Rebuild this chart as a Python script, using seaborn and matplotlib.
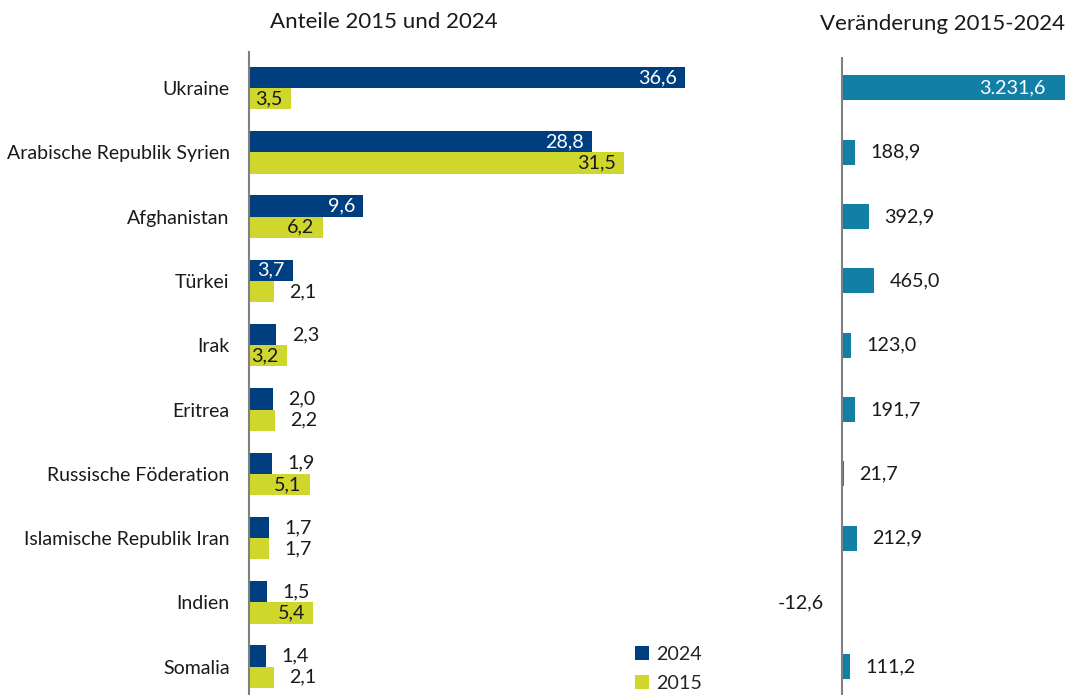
import pandas as pd
import matplotlib.pyplot as plt
import seaborn as sns

# Daten
laender = ["Ukraine", "Arabische Republik Syrien", "Afghanistan", "Türkei", "Irak",
           "Eritrea", "Russische Föderation", "Islamische Republik Iran", "Indien", "Somalia"]
anteil_2024 = [36.6, 28.8, 9.6, 3.7, 2.3, 2.0, 1.9, 1.7, 1.5, 1.4]
anteil_2015 = [3.5, 31.5, 6.2, 2.1, 3.2, 2.2, 5.1, 1.7, 5.4, 2.1]
veraenderung = [3231.6, 188.9, 392.9, 465.0, 123.0, 191.7, 21.7, 212.9, -12.6, 111.2]
jahre = ["2024", "2015"]

C_2024 = "#003f7f"
C_2015 = "#cfd72d"
C_VER = "#127fa6"
TXT = "#1a1a1a"
FS = 14.2


def fmt(v):
    s = f"{v:,.1f}"
    return s.replace(",", "X").replace(".", ",").replace("X", ".")


df = pd.DataFrame({
    "Land": laender * 2,
    "Anteil": anteil_2024 + anteil_2015,
    "Jahr": ["2024"] * len(laender) + ["2015"] * len(laender),
})
df_ver = pd.DataFrame({"Land": laender, "Veraenderung": veraenderung})

sns.set_theme(style="white")
plt.rcParams["font.family"] = ["Lato", "DejaVu Sans"]

W, H = 1070, 695
fig = plt.figure(figsize=(W / 100, H / 100), dpi=100)
ax1 = fig.add_axes([249 / W, 0, 460 / W, 643 / H])
ax2 = fig.add_axes([838 / W, 0, 228 / W, 638 / H])

# linkes Panel: Anteile
sns.barplot(data=df, y="Land", x="Anteil", hue="Jahr", hue_order=jahre,
            palette=[C_2024, C_2015], width=0.66, orient="h", ax=ax1,
            saturation=1, edgecolor="none")
ax1.set_xlim(0, 460 / 11.91)
ax1.set_ylim(9.44, -0.56)

for cont, farbe_innen in zip(ax1.containers, ["white", TXT]):
    for bar in cont:
        w = bar.get_width()
        yc = bar.get_y() + bar.get_height() / 2
        if w >= 3:
            ax1.annotate(fmt(w), (w, yc), xytext=(-6, 0), textcoords="offset points",
                         ha="right", va="center", color=farbe_innen, fontsize=FS)
        else:
            ax1.annotate(fmt(w), (w, yc), xytext=(11, 0), textcoords="offset points",
                         ha="left", va="center", color=TXT, fontsize=FS)

handles, labels = ax1.get_legend_handles_labels()
ax1.legend(handles, labels, loc="upper left", bbox_to_anchor=(617 / W, 1 - 628 / H),
           bbox_transform=fig.transFigure, frameon=False, fontsize=FS,
           handlelength=0.7, handleheight=0.7, handletextpad=0.4, labelspacing=0.6)

# rechtes Panel: Veränderung
sns.barplot(data=df_ver, y="Land", x="Veraenderung", color=C_VER, width=0.39,
            orient="h", ax=ax2, saturation=1, edgecolor="none")
ax2.set_xlim(-60, 3245)
ax2.set_ylim(9.44, -0.48)

for bar in ax2.containers[0]:
    w = bar.get_x() + bar.get_width() if bar.get_x() >= 0 else bar.get_x()
    yc = bar.get_y() + bar.get_height() / 2
    if w > 2000:
        ax2.annotate(fmt(w), (w, yc), xytext=(-14, 0), textcoords="offset points",
                     ha="right", va="center", color="white", fontsize=FS)
    elif w < 0:
        ax2.annotate(fmt(w), (0, yc), xytext=(-13, 0), textcoords="offset points",
                     ha="right", va="center", color=TXT, fontsize=FS)
    else:
        ax2.annotate(fmt(w), (w, yc), xytext=(11, 0), textcoords="offset points",
                     ha="left", va="center", color=TXT, fontsize=FS)

for ax in (ax1, ax2):
    ax.set_xlabel("")
    ax.set_ylabel("")
    ax.set_xticks([])
    for s in ("top", "right", "bottom", "left"):
        ax.spines[s].set_visible(False)
    ax.tick_params(axis="y", length=0)

ax1.spines["left"].set_visible(True)
ax1.spines["left"].set_color("#808080")
ax1.spines["left"].set_linewidth(1.5)
ax1.tick_params(axis="y", pad=14, labelsize=14, labelcolor=TXT)
ax2.set_yticks([])
ax2.axvline(0, color="#808080", lw=1.5)

fig.text(384 / W, 1 - 22 / H, "Anteile 2015 und 2024", ha="center", va="center",
         fontsize=16, color=TXT)
fig.text(943 / W, 1 - 24 / H, "Veränderung 2015-2024", ha="center", va="center",
         fontsize=16, color=TXT)

fig.savefig("out.png", dpi=100)
